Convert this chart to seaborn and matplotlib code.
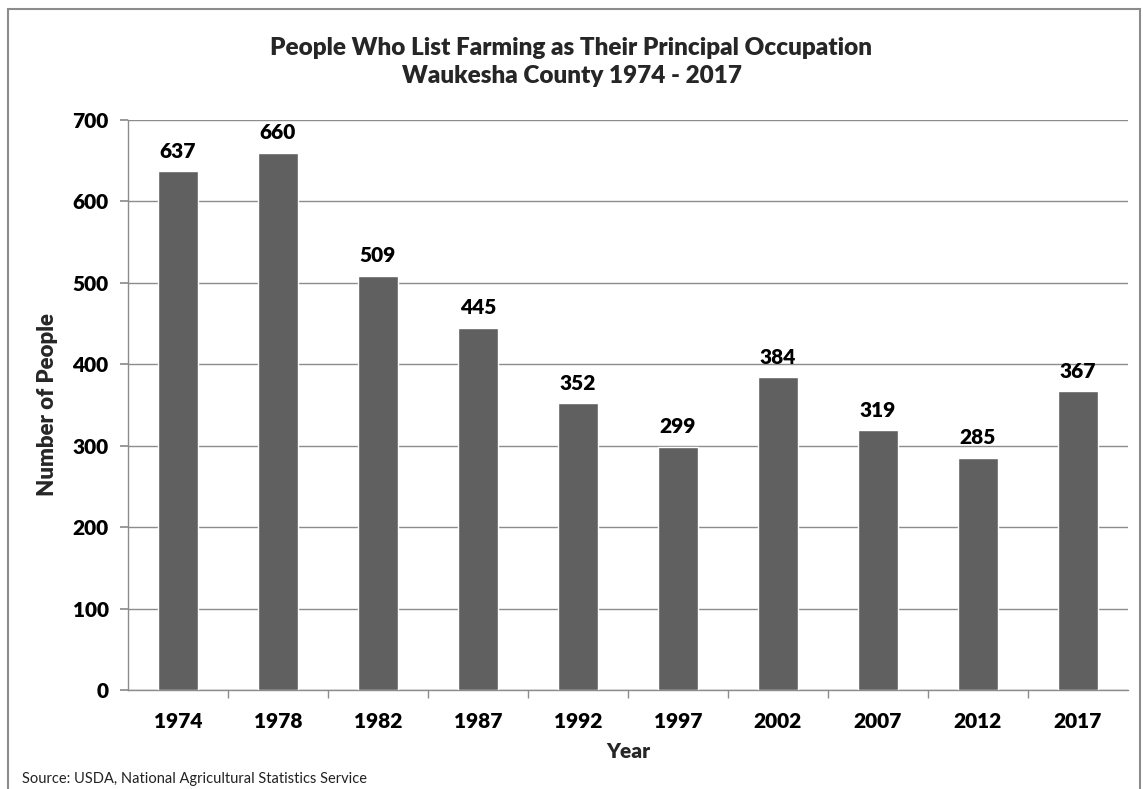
import matplotlib
matplotlib.use("Agg")
import matplotlib.pyplot as plt
import seaborn as sns
import pandas as pd
from matplotlib.patches import Rectangle

years = ["1974", "1978", "1982", "1987", "1992", "1997", "2002", "2007", "2012", "2017"]
people = [637, 660, 509, 445, 352, 299, 384, 319, 285, 367]
yticks = [0, 100, 200, 300, 400, 500, 600, 700]

sns.set_theme(style="white")
plt.rcParams['font.family'] = ['Lato', 'DejaVu Sans']

df = pd.DataFrame({"Year": years, "People": people})

fig = plt.figure(figsize=(11.43, 7.89), dpi=100)
ax = fig.add_axes([128/1143, 1 - 690/789, (1128 - 128)/1143, (690 - 120)/789])

sns.barplot(data=df, x="Year", y="People", color="#606060", saturation=1,
            width=0.4, ax=ax, zorder=3)

ax.set_ylim(0, 700)
ax.set_yticks(yticks)
ax.set_xlim(-0.5, len(years) - 0.5)
ax.yaxis.grid(True, color="#8c8c8c", linewidth=1, zorder=0)
ax.set_axisbelow(True)

for s in ["top", "right"]:
    ax.spines[s].set_visible(False)
for s in ["left", "bottom"]:
    ax.spines[s].set_color("#8c8c8c")
    ax.spines[s].set_linewidth(1)

ax.tick_params(axis="y", which="both", left=True, length=6, color="#8c8c8c",
               labelsize=15, pad=8)
ax.set_xticks([i + 0.5 for i in range(len(years) - 1)], minor=True)
ax.tick_params(axis="x", which="minor", bottom=True, length=6, color="#8c8c8c")
ax.tick_params(axis="x", which="major", bottom=False, labelsize=15, pad=10)
ax.set_xticks(range(len(years)))
ax.set_xticklabels(years)
for lbl in ax.get_xticklabels() + ax.get_yticklabels():
    lbl.set_fontweight("heavy")
    lbl.set_color("black")

for i, v in enumerate(people):
    ax.text(i, v + 13, str(v), ha="center", va="bottom", fontsize=15,
            fontweight="heavy", color="black")

ax.set_xlabel("Year", fontsize=15, fontweight="heavy", labelpad=8)
ax.set_ylabel("Number of People", fontsize=16, fontweight="heavy", labelpad=10)

fig.text(0.5, 1 - 62/789, "People Who List Farming as Their Principal Occupation\nWaukesha County 1974 - 2017",
         ha="center", va="center", fontsize=17.5, fontweight="heavy", linespacing=1.35)

fig.text(22/1143, 1 - 779/789, "Source: USDA, National Agricultural Statistics Service",
         ha="left", va="center", fontsize=10.5, color="#222222")

fig.patches.append(Rectangle((8/1143, -0.05), (1140 - 8)/1143, 1.05 - 9/789,
                             transform=fig.transFigure, fill=False,
                             edgecolor="#8c8c8c", linewidth=1.5))

fig.savefig("out.png", dpi=100)
